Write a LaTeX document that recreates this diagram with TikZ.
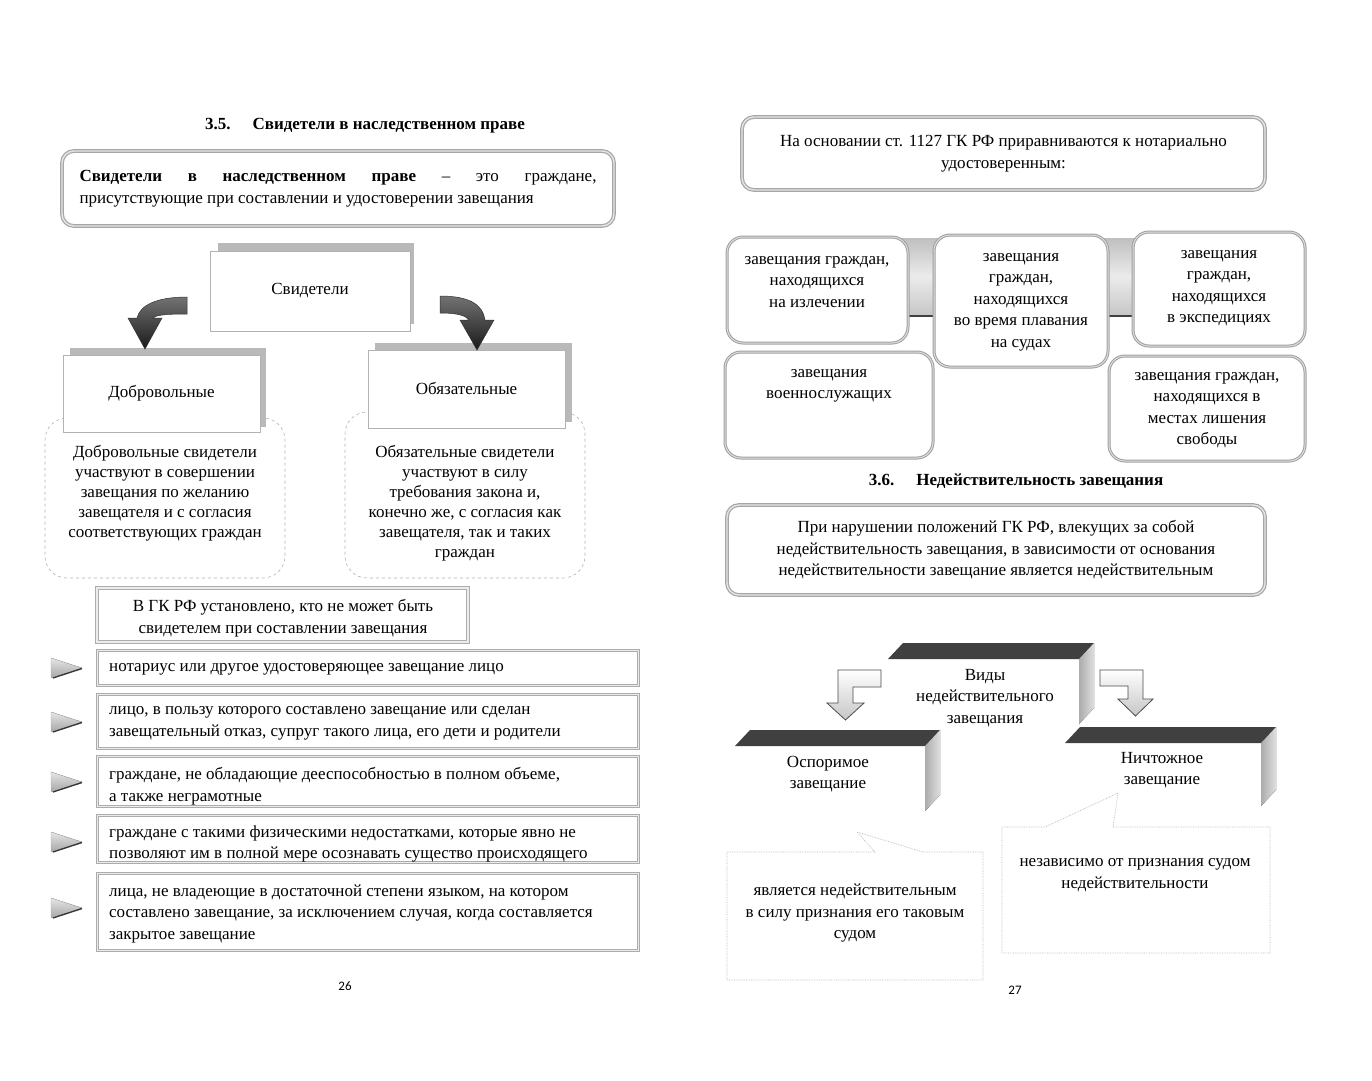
\documentclass[tikz,border=0pt]{standalone}
\usepackage{fontspec}
\setmainfont{Liberation Serif}
\newfontfamily\pnfont{Carlito}
\usetikzlibrary{calc}
\hyphenpenalty=10000
\tolerance=10000
\begin{document}
\begin{tikzpicture}[x=1pt,y=-1pt, font=\fontsize{17}{21.5}\selectfont,
  lbox/.style={draw=gray!60, line width=0.8pt, fill=white, inner sep=0pt},
  shadowbox/.style={fill=gray!55},
  rdbl/.style={draw=gray!70, double=gray!20, double distance=1.4pt, line width=1.2pt, rounded corners=12pt, fill=white},
  sq/.style={draw=gray!65, double=gray!15, double distance=1pt, line width=1pt, fill=white, inner sep=0pt},
  rbox/.style={draw=gray!75, double=gray!25, double distance=1pt, line width=1pt, rounded corners=16pt, fill=white, inner sep=0pt},
  txt/.style={align=center, inner sep=0pt},
  ltxt/.style={align=left, inner sep=0pt, anchor=west},
  dashbox/.style={draw=gray!60, dashed, line width=0.6pt, rounded corners=22pt, inner sep=0pt},
  dtxt/.style={align=center, inner sep=0pt, font=\fontsize{17}{20}\selectfont},
  hd/.style={font=\bfseries\fontsize{17}{20}\selectfont},
  bullet/.style={top color=gray!20, bottom color=gray!70, draw=gray!60, line width=0.4pt},
  top3d/.style={fill=black!75},
  side3d/.style={left color=gray!65, right color=gray!25},
  harrow/.style={draw=black!70, line width=0.8pt, top color=white, bottom color=gray!45},
  darrow/.style={top color=black!55, bottom color=black!90, draw=black!80, line width=0.5pt},
  callout/.style={draw=gray!55, densely dotted, line width=0.7pt},
  pnum/.style={font=\pnfont\fontsize{13}{15}\selectfont}
]
\useasboundingbox (0,0) rectangle (1372,1080);
\fill[white] (0,0) rectangle (1372,1080);

% ===================== LEFT PAGE =====================
\node[hd] (t35) at (365,126) {3.5.\hspace{22pt}Свидетели в наследственном праве};

\node[rdbl, minimum width=552pt, minimum height=75pt, text width=517pt, inner xsep=17.5pt, inner ysep=0pt, align=justify] (def) at (338,188.5)
  {\textbf{Свидетели в наследственном праве} – это граждане,\linebreak присутствующие при составлении и удостоверении завещания};

% dashed explanation boxes
\node[dashbox, minimum width=240pt, minimum height=160pt] (dobrbox) at (165,498) {};
\node[dashbox, minimum width=240pt, minimum height=166pt] (obyazbox) at (465,495) {};
\node[dtxt] (dobrtxt) at (165,493)
  {Добровольные свидетели\\участвуют в совершении\\завещания по желанию\\завещателя и с согласия\\соответствующих граждан};
\node[dtxt] (obyaztxt) at (465,503)
  {Обязательные свидетели\\участвуют в силу\\требования закона и,\\конечно же, с согласия как\\завещателя, так и таких\\граждан};

% shadows and label boxes
\fill[shadowbox] (218,243) rectangle (414,324);
\node[lbox, minimum width=200pt, minimum height=80pt] (svid) at (310,291) {Свидетели};
\fill[shadowbox] (70,348) rectangle (266,427);
\node[lbox, minimum width=197pt, minimum height=77pt] (dobr) at (161.5,393.5) {Добровольные};
\fill[shadowbox] (375,343) rectangle (572,422);
\node[lbox, minimum width=197pt, minimum height=78pt] (obyaz) at (466.5,389) {\raisebox{2pt}{Обязательные}};

% curved arrows
\path[darrow] (187,297) .. controls (157,297) and (140,305) .. (137,318) -- (128,318) -- (145,349)
  -- (162,318) -- (153,318) .. controls (156,315) and (166,314) .. (187,314) -- cycle;
\path[darrow] (440,296) .. controls (470,296) and (483,305) .. (485,320) -- (494,320) -- (477,350)
  -- (460,320) -- (469,320) .. controls (466,316) and (459,313) .. (440,313) -- cycle;

% "В ГК РФ" box
\node[sq, line width=1.3pt, double distance=1.6pt, minimum width=371pt, minimum height=54pt] (gk) at (282.5,615) {};
\node[txt] (gktxt) at (283,618) {В ГК РФ установлено, кто не может быть\\свидетелем при составлении завещания};

% list
\tikzset{item/.style={sq, minimum width=541pt}}
\node[item, minimum height=35pt] (i1) at (367.5,667.5) {};
\node[item, minimum height=54pt] (i2) at (367.5,721) {};
\node[item, minimum height=50pt] (i3) at (367.5,781) {};
\node[item, minimum height=47pt] (i4) at (367.5,838.5) {};
\node[item, minimum height=77pt] (i5) at (367.5,911.5) {};
\node[ltxt] (it1) at (109,669) {нотариус или другое удостоверяющее завещание лицо};
\node[ltxt] (it2) at (109,723.5) {лицо, в пользу которого составлено завещание или сделан\\завещательный отказ, супруг такого лица, его дети и родители};
\node[ltxt] (it3) at (109,786) {граждане, не обладающие дееспособностью в полном объеме,\\а также неграмотные};
\node[ltxt] (it4) at (109,844) {граждане с такими физическими недостатками, которые явно не\\позволяют им в полной мере осознавать существо происходящего};
\node[ltxt] (it5) at (109,913.5) {лица, не владеющие в достаточной степени языком, на котором\\составлено завещание, за исключением случая, когда составляется\\закрытое завещание};

\foreach \yy/\nm in {668/b1,722/b2,782/b3,842/b4,908/b5}{
  \fill[bullet] (51,\yy-10) -- (82,\yy) -- (51,\yy+10) -- cycle;
  \draw[black!80, line width=1.3pt] (53,\yy+10) -- (82,\yy+0.5);
  \coordinate (\nm) at (67,\yy);
}

\node[pnum] (p26) at (345,986) {26};

% ===================== RIGHT PAGE =====================
\node[rdbl, minimum width=523pt, minimum height=73pt, align=center] (base) at (1003.5,153.5)
  {На основании ст. 1127 ГК РФ приравниваются к нотариально\\удостоверенным:};

% connecting band
\path[top color=gray!50, bottom color=gray!45, middle color=gray!15] (900,238) rectangle (1140,315);
\draw[black!75, line width=2pt] (900,316) -- (1140,316);

\node[rbox, minimum width=181pt, minimum height=106pt] (ba) at (817.5,290) {};
\node[rbox, minimum width=174pt, minimum height=132pt] (bb) at (1021,301) {};
\node[rbox, minimum width=172pt, minimum height=114pt] (bc) at (1219,289) {};
\node[rbox, minimum width=208pt, minimum height=106pt] (bd) at (829,405) {};
\node[rbox, minimum width=196pt, minimum height=105pt] (be) at (1207,408.5) {};

\node[txt] (ta) at (817,282) {завещания граждан,\\находящихся\\на излечении};
\node[txt] (tb) at (1021,302) {завещания\\граждан,\\находящихся\\во время плавания\\на судах};
\node[txt] (tc) at (1219,288) {завещания\\граждан,\\находящихся\\в экспедициях};
\node[txt] (td) at (829,386) {завещания\\военнослужащих};
\node[txt] (te) at (1207,410) {завещания граждан,\\находящихся в\\местах лишения\\свободы};

\node[hd] (t36) at (1016,481) {3.6.\hspace{22pt}Недействительность завещания};

\node[rdbl, minimum width=538pt, minimum height=90pt, align=center] (nar) at (996,550)
  {При нарушении положений ГК РФ, влекущих за собой\\недействительность завещания, в зависимости от основания\\недействительности завещание является недействительным};

% 3D shapes
\fill[top3d] (888,659) -- (903,643) -- (1094,643) -- (1079,659) -- cycle;
\fill[side3d] (1079,659) -- (1094,643) -- (1094,708) -- (1079,724) -- cycle;
\node[txt] (vidy) at (985,698) {Виды\\недействительного\\завещания};

\fill[top3d] (735,746) -- (750,730) -- (940,730) -- (925,746) -- cycle;
\fill[side3d] (925,746) -- (940,730) -- (940,795) -- (925,811) -- cycle;
\node[txt] (ospor) at (828,774) {Оспоримое\\завещание};

\fill[top3d] (1065,743) -- (1080,727) -- (1276,727) -- (1261,743) -- cycle;
\fill[side3d] (1261,743) -- (1276,727) -- (1276,790) -- (1261,806) -- cycle;
\node[txt] (nicht) at (1162,770) {Ничтожное\\завещание};

% hollow bent arrows
\path[harrow] (838,670) -- (881,670) -- (881,687) -- (853,687) -- (853,703) -- (864,703) -- (845.5,720)
  -- (827,703) -- (838,703) -- cycle;
\path[harrow] (1100,670) -- (1143,670) -- (1143,699) -- (1153,699) -- (1135.5,716) -- (1118,699)
  -- (1128,699) -- (1128,686) -- (1100,686) -- cycle;

% callouts
\draw[callout] (727,852) -- (875,852) -- (857,832) -- (923,852) -- (983,852) -- (983,980) -- (727,980) -- cycle;
\node[txt] (cl) at (855,913) {является недействительным\\в силу признания его таковым\\судом};
\draw[callout] (1002,827) -- (1045,827) -- (1118,793) -- (1113,827) -- (1270,827) -- (1270,953) -- (1002,953) -- cycle;
\node[txt] (cr) at (1135,875) {независимо от признания судом\\недействительности};

\node[pnum] (p27) at (1015,990) {27};
\end{tikzpicture}
\end{document}
